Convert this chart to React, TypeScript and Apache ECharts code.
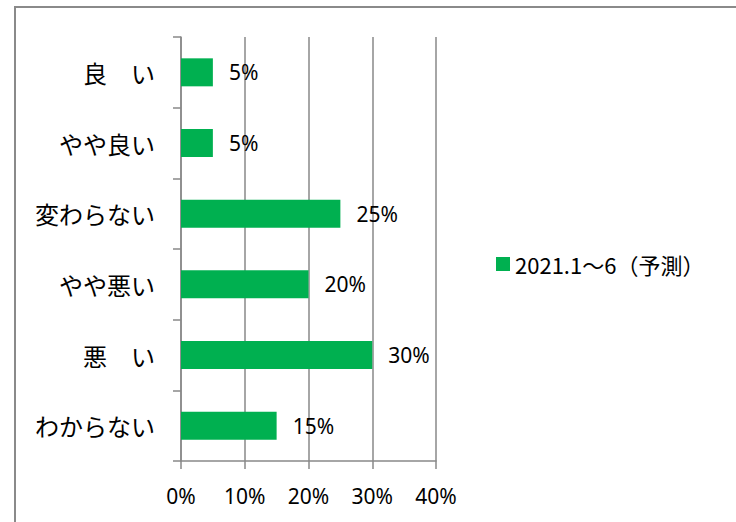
import React, { useEffect, useRef } from "react";
import * as echarts from "echarts";

const categories = ["良　い", "やや良い", "変わらない", "やや悪い", "悪　い", "わからない"];
const seriesName = "2021.1～6（予測）";
const values = [5, 5, 25, 20, 30, 15];
const xTicks = [0, 10, 20, 30, 40];

export default function App() {
  const ref = useRef<HTMLDivElement>(null);
  useEffect(() => {
    if (!ref.current) return;
    const chart = echarts.init(ref.current, null, { renderer: "svg" });
    const gray = "#898989";
    chart.setOption({
      animation: false,
      backgroundColor: "#ffffff",
      graphic: [
        {
          type: "rect",
          shape: { x: 15, y: 7, width: 800, height: 600 },
          style: { fill: "none", stroke: "#8a8a8a", lineWidth: 2 },
          silent: true,
        },
      ],
      grid: { left: 181, top: 37, right: 300, bottom: 61, containLabel: false },
      legend: {
        data: [seriesName],
        left: 491,
        top: 248,
        icon: "rect",
        itemWidth: 14,
        itemHeight: 14,
        itemGap: 10,
        textStyle: { fontSize: 22, color: "#000", fontFamily: "Noto Sans CJK JP" },
      },
      xAxis: {
        type: "value",
        min: xTicks[0],
        max: xTicks[xTicks.length - 1],
        interval: 10,
        axisLine: { show: true, lineStyle: { color: gray, width: 1.5 } },
        axisTick: { show: true, length: 8, lineStyle: { color: gray, width: 1.5 } },
        splitLine: { show: true, lineStyle: { color: gray, width: 1.5 } },
        axisLabel: {
          formatter: "{value}%",
          fontSize: 21,
          color: "#000",
          margin: 24,
          fontFamily: "Noto Sans",
        },
      },
      yAxis: {
        type: "category",
        data: categories,
        inverse: true,
        axisLine: { show: true, lineStyle: { color: gray, width: 1.5 } },
        axisTick: { show: true, length: 8, lineStyle: { color: gray, width: 1.5 } },
        axisLabel: {
          fontSize: 24,
          color: "#000",
          margin: 26,
          fontFamily: "Noto Sans CJK JP",
        },
      },
      series: [
        {
          name: seriesName,
          type: "bar",
          data: values,
          barWidth: 28,
          itemStyle: { color: "#00B050" },
          label: {
            show: true,
            position: "right",
            distance: 16,
            formatter: "{c}%",
            fontSize: 21,
            color: "#000",
            fontFamily: "Noto Sans",
          },
        },
      ],
    });
    return () => chart.dispose();
  }, []);
  return (
    <div
      ref={ref}
      style={{ position: "fixed", left: 0, top: 0, width: 736, height: 522, background: "#fff" }}
    />
  );
}
